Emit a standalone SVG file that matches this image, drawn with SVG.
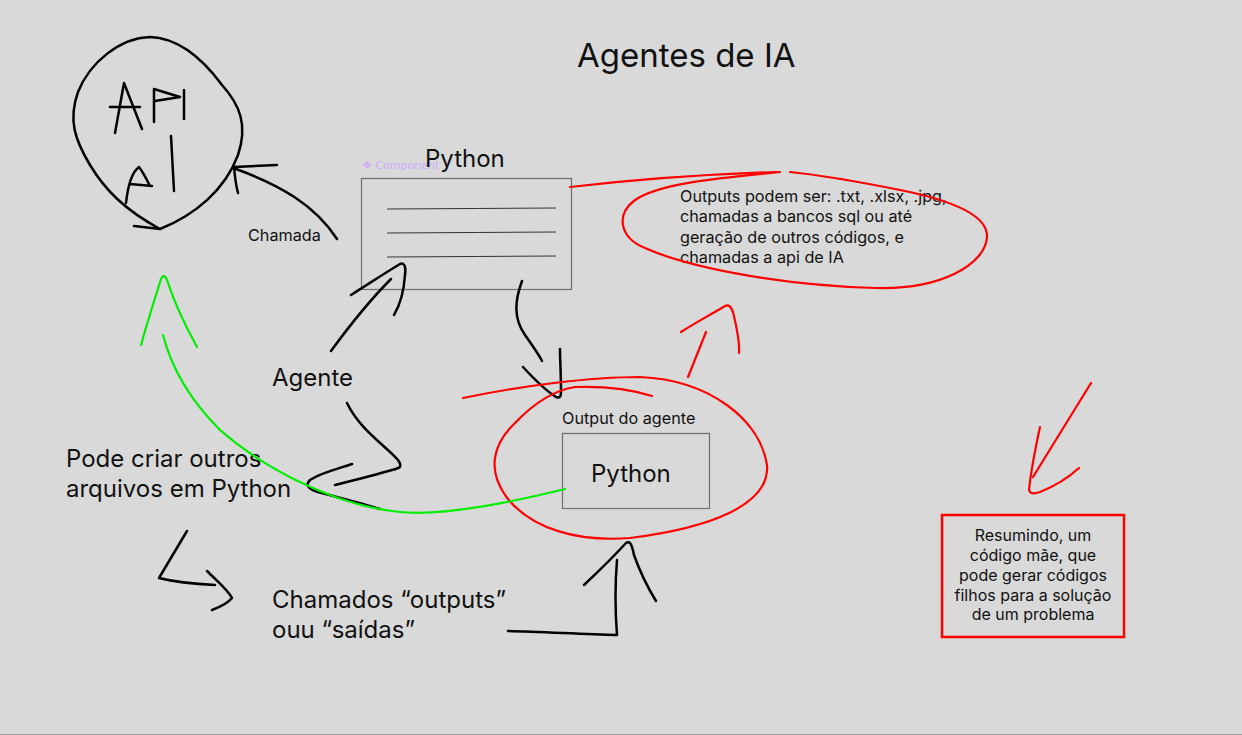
<svg xmlns="http://www.w3.org/2000/svg" width="1242" height="735" viewBox="0 0 1242 735">
<style>
.ink{fill:none;stroke:#000;stroke-width:2.5;stroke-linecap:round;stroke-linejoin:round}
.red{fill:none;stroke:#ff0000;stroke-width:2.2;stroke-linecap:round;stroke-linejoin:round}
.grn{fill:none;stroke:#00ee00;stroke-width:2.2;stroke-linecap:round;stroke-linejoin:round}
.t{font-family:Inter,"Liberation Sans",sans-serif;fill:#111}
.box{fill:none;stroke:#6f6f6f;stroke-width:1.2}
.rule{stroke:#333;stroke-width:1}
</style>
<rect width="1242" height="735" fill="#d9d9d9"/>
<line x1="0" y1="734.5" x2="1242" y2="734.5" stroke="#9a9a9a" stroke-width="1"/>

<g id="title"><text class="t" x="577" y="67" font-size="33">Agentes de IA</text></g>

<g id="api-ai">
<path class="ink" d="M160,229 C195,215 225,190 238,155 C248,125 240,105 222,85 C205,62 180,38 150,37 C120,38 90,62 78,92 C68,120 75,140 90,165 C105,190 125,210 160,229 L134,226"/>
<path class="ink" d="M115,133 L124,83 L142,129 M110,107 L140,107"/>
<path class="ink" d="M154,122 L154,89 L180,97 L155,101"/>
<path class="ink" d="M184,90 L184,119"/>
<path class="ink" d="M126,203 C128,185 132,172 139,167 C143,172 147,180 150,186 M130,184 L152,186"/>
<path class="ink" d="M171,136 L174,191"/>
</g>

<g id="python-main">
<text x="362" y="169" font-family="'DejaVu Sans',sans-serif" font-size="11" fill="#cfa9ff">❖ Component 1</text>
<text class="t" x="425" y="167" font-size="24">Python</text>
<rect class="box" x="361.5" y="178.5" width="210" height="111"/>
<line class="rule" x1="387" y1="209" x2="556" y2="208"/>
<line class="rule" x1="387" y1="233" x2="556" y2="232"/>
<line class="rule" x1="387" y1="257" x2="556" y2="256"/>
</g>

<g id="outputs-note">
<text class="t" font-size="16.2"><tspan x="680" y="202">Outputs podem ser: .txt, .xlsx, .jpg,</tspan><tspan x="680" y="222">chamadas a bancos sql ou até</tspan><tspan x="680" y="243">geração de outros códigos, e</tspan><tspan x="680" y="263">chamadas a api de IA</tspan></text>
</g>

<g id="output-agente">
<text class="t" x="562" y="424" font-size="16.2">Output do agente</text>
<rect class="box" x="562.5" y="433.5" width="147" height="75"/>
<text class="t" x="591" y="482" font-size="24">Python</text>
</g>

<g id="labels">
<text class="t" x="248" y="241" font-size="16.2">Chamada</text>
<text class="t" x="272" y="386" font-size="24">Agente</text>
<text class="t" font-size="24"><tspan x="66" y="467">Pode criar outros</tspan><tspan x="66" y="497">arquivos em Python</tspan></text>
<text class="t" font-size="24"><tspan x="272" y="608">Chamados “outputs”</tspan><tspan x="272" y="638">ouu “saídas”</tspan></text>
</g>

<g id="resumo">
<rect x="942" y="515" width="182" height="122" fill="none" stroke="#ff0000" stroke-width="2.5"/>
<text class="t" font-size="16" text-anchor="middle"><tspan x="1033" y="541">Resumindo, um</tspan><tspan x="1033" y="561">código mãe, que</tspan><tspan x="1033" y="581">pode gerar códigos</tspan><tspan x="1033" y="601">filhos para a solução</tspan><tspan x="1033" y="620">de um problema</tspan></text>
</g>

<g id="connectors">
<path class="ink" d="M337,239 C315,205 280,185 236,169"/>
<path class="ink" d="M277,165 L234,167 C235,178 236,186 238,193"/>
<path class="ink" d="M331,351 C350,325 370,300 391,279"/>
<path class="ink" d="M351,295 C370,283 385,273 400,264 C405,262 406,268 405,275 C404,290 400,305 394,315"/>
<path class="ink" d="M347,403 C360,430 385,445 398,460 C403,467 400,468 392,470 C375,475 355,480 335,485"/>
<path class="ink" d="M352,464 C340,468 320,473 310,480 C305,485 308,489 318,492 C340,498 360,503 380,509"/>
<path class="ink" d="M522,281 C515,300 513,318 525,335 C532,345 538,353 542,361"/>
<path class="ink" d="M523,367 C535,380 548,392 556,397 C561,399 561,395 561,390 C561,375 560,360 560,349"/>
<path class="ink" d="M187,531 L159,578 C175,582 195,584 215,585"/>
<path class="ink" d="M207,571 C218,582 228,590 232,598 C228,603 220,607 212,610"/>
<path class="ink" d="M508,631 C545,632 580,634 617,635 C615,610 615,585 617,560"/>
<path class="ink" d="M584,585 C600,570 615,555 626,543 C630,540 632,545 634,555 C640,572 648,588 656,601"/>
<path class="red" d="M570,187 C640,179 710,174 777,172"/>
<path class="red" d="M780,172 C720,178 660,183 635,200 C615,215 620,238 645,248 C690,268 780,285 875,288 C940,290 985,265 987,237 C988,215 950,200 900,190 C860,182 820,175 790,172"/>
<path class="red" d="M463,398 C520,386 590,377 640,377 C710,380 760,420 767,465 C770,505 710,528 630,538 C580,542 530,530 505,495 C488,470 492,445 515,423 C535,402 555,390 575,387 C605,386 630,389 652,396"/>
<path class="red" d="M688,377 L706,332"/>
<path class="red" d="M681,332 C695,323 710,315 725,306 C729,304 731,307 733,312 C736,325 740,340 739,353"/>
<path class="red" d="M1091,383 L1033,477"/>
<path class="red" d="M1040,427 C1035,450 1031,470 1029,490 C1030,494 1034,494 1040,492 C1055,486 1068,478 1079,468"/>
<path class="grn" d="M565,489 C500,505 440,516 400,512 C330,505 260,465 220,430 C190,400 172,370 163,335"/>
<path class="grn" d="M141,345 C148,320 155,298 161,279 C163,275 165,275 167,280 C175,305 186,327 197,347"/>
</g>
</svg>
